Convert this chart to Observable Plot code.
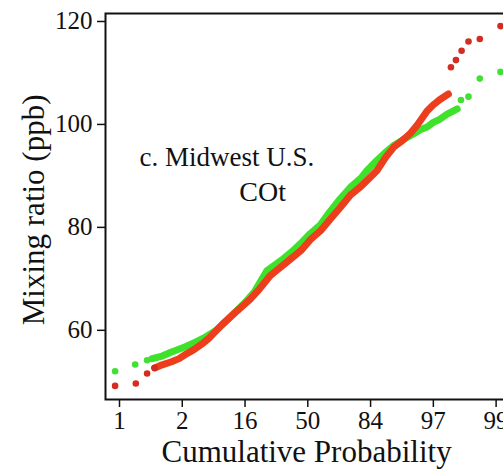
<!DOCTYPE html>
<html><head><meta charset="utf-8">
<script src="https://cdn.jsdelivr.net/npm/d3@7"></script>
<script src="https://cdn.jsdelivr.net/npm/@observablehq/plot@0.6"></script>
<style>
html,body{margin:0;padding:0;background:#fff;overflow:hidden;width:503px;height:472px}
#chart svg{max-width:none !important;overflow:visible}
#chart svg text{font-family:"Liberation Serif","DejaVu Serif",serif !important}
</style>
</head><body><div id="chart"></div>
<script>
// Axis ticks (normal scores) and their printed labels
const zTicks = [-3, -2, -1, 0, 1, 2, 3];
const zTickLabels = ["1", "2", "16", "50", "84", "97", "99"];
const yTicks = [60, 80, 100, 120];

// Green series (normal score, mixing ratio ppb)
const greenLowZ = [-3.07, -2.75, -2.56];
const greenLowV = [52.05, 53.35, 54.18];
const greenCoreZ = [-2.48, -2.32, -2.17, -1.95, -1.79, -1.63, -1.47, -1.30, -1.15, -1.0, -0.85, -0.65, -0.50, -0.39, -0.25, -0.12, 0.04, 0.2, 0.35, 0.52, 0.68, 0.85, 0.94, 1.10, 1.24, 1.37, 1.50, 1.63, 1.69, 1.80, 1.90, 2.00, 2.10, 2.22, 2.30, 2.38];
const greenCoreV = [54.5, 55.0, 55.8, 56.8, 57.7, 58.7, 59.9, 61.8, 63.6, 65.4, 67.5, 71.6, 72.9, 73.9, 75.3, 76.8, 78.8, 80.5, 83.0, 85.6, 87.8, 89.6, 91.0, 93.0, 94.6, 95.9, 96.9, 97.8, 98.2, 99.0, 99.5, 100.4, 101.0, 102.0, 102.5, 103.0];
const greenHighZ = [2.44, 2.56, 2.74, 3.07];
const greenHighV = [104.75, 105.4, 108.9, 110.2];

// Red series
const redLowZ = [-3.07, -2.74, -2.56, -2.44];
const redLowV = [49.2, 49.66, 51.6, 52.7];
const redCoreZ = [-2.44, -2.32, -2.17, -2.05, -1.95, -1.82, -1.69, -1.58, -1.47, -1.35, -1.18, -1.05, -0.92, -0.80, -0.70, -0.60, -0.50, -0.39, -0.23, -0.10, 0.04, 0.2, 0.35, 0.52, 0.68, 0.85, 1.0, 1.10, 1.24, 1.37, 1.50, 1.63, 1.75, 1.90, 2.00, 2.10, 2.24];
const redCoreV = [52.7, 53.3, 53.9, 54.5, 55.3, 56.2, 57.3, 58.4, 59.8, 61.3, 63.2, 64.6, 66.0, 67.6, 69.1, 70.6, 71.6, 72.7, 74.3, 75.6, 77.6, 79.3, 81.5, 83.9, 86.3, 88.0, 89.8, 91.0, 93.6, 95.6, 96.8, 98.2, 100.0, 102.6, 103.8, 104.8, 105.9];
const redHighZ = [2.28, 2.36, 2.45, 2.56, 2.74, 3.07];
const redHighV = [111.1, 112.5, 114.3, 116.1, 116.6, 119.1];

const rows = (z, v) => z.map((d, i) => ({z: d, v: v[i]}));

const green = "#42e034", greenLine = "#3ee22a";
const red = "#d42c20", redLine = "#ec3d1d";
const font = "Liberation Serif, DejaVu Serif, serif";

const chart = Plot.plot({
  width: 545, height: 472,
  marginLeft: 105, marginRight: 18, marginTop: 13, marginBottom: 73,
  style: {background: "#fff", color: "#111", overflow: "visible", maxWidth: "none"},
  x: {domain: [-3.223, 3.5]},
  y: {domain: [46.56, 121.55]},
  marks: [
    Plot.axisX(zTicks, {tickFormat: d => zTickLabels[zTicks.indexOf(d)], tickSize: 8, tickPadding: 4, fontSize: 25, fontFamily: font, label: null, strokeWidth: 1.5}),
    Plot.axisY(yTicks, {tickSize: 8, tickPadding: 5, fontSize: 25, fontFamily: font, label: null, strokeWidth: 1.5}),
    Plot.text(["Cumulative Probability"], {x: () => -0.02, frameAnchor: "bottom", dy: 62, lineAnchor: "bottom", textAnchor: "middle", fontSize: 31, fontFamily: font, fill: "#111"}),
    Plot.text(["Mixing ratio (ppb)"], {y: () => 83.4, frameAnchor: "left", dx: -62, rotate: -90, lineAnchor: "bottom", textAnchor: "middle", fontSize: 31, fontFamily: font, fill: "#111"}),
    Plot.text(["c. Midwest U.S."], {x: () => -1.29, y: () => 93.6, fontSize: 27, fontFamily: font, textAnchor: "middle", fill: "#111"}),
    Plot.text(["COt"], {x: () => -0.72, y: () => 86.8, fontSize: 28, fontFamily: font, textAnchor: "middle", fill: "#111"}),
    // green
    Plot.line(rows(greenCoreZ, greenCoreV), {x: "z", y: "v", stroke: greenLine, strokeWidth: 7, strokeLinecap: "round", strokeLinejoin: "round"}),
    Plot.dot(rows(greenLowZ, greenLowV), {x: "z", y: "v", r: 3.3, fill: green}),
    Plot.dot(rows(greenHighZ, greenHighV), {x: "z", y: "v", r: 3.3, fill: green}),
    // red
    Plot.line(rows(redCoreZ, redCoreV), {x: "z", y: "v", stroke: redLine, strokeWidth: 7, strokeLinecap: "round", strokeLinejoin: "round"}),
    Plot.dot(rows(redLowZ, redLowV), {x: "z", y: "v", r: 3.3, fill: red}),
    Plot.dot(rows(redHighZ, redHighV), {x: "z", y: "v", r: 3.3, fill: red}),
    Plot.frame({stroke: "#111", strokeWidth: 2})
  ]
});
document.getElementById("chart").appendChild(chart);
</script>
</body></html>
